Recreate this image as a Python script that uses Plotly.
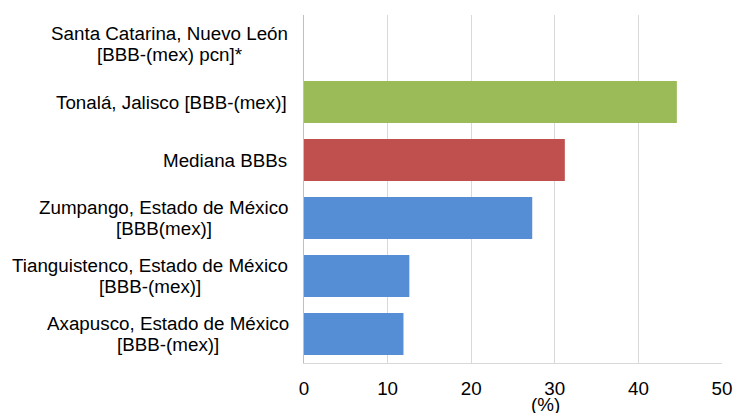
import plotly.graph_objects as go

categories = [
    "Axapusco, Estado de México<br>[BBB-(mex)]",
    "Tianguistenco, Estado de México<br>[BBB-(mex)]",
    "Zumpango, Estado de México<br>[BBB(mex)]",
    "Mediana BBBs",
    "Tonalá, Jalisco [BBB-(mex)]",
    "Santa Catarina, Nuevo León<br>[BBB-(mex) pcn]*",
]
values = [11.9, 12.6, 27.3, 31.2, 44.6, None]
colors = ["#558ED5", "#558ED5", "#558ED5", "#C0504D", "#9BBB59", "#9BBB59"]
x_ticks = [0, 10, 20, 30, 40, 50]
x_title = "(%)"

# layout: horizontal pixel centre of each (two-line) label block
label_centers_px = [167.6, 150.4, 164.1, None, None, 169.8]

W, H = 748, 413
ML, MR, MT, MB = 304, 26, 15, 50
PW = W - ML - MR
LABEL_RIGHT_PX = 288
LINE_GAP = 21

FONT = dict(family="Liberation Sans, Arial", size=18.8, color="#000000")

fig = go.Figure()
fig.add_trace(go.Bar(
    y=categories, x=values, orientation="h",
    marker=dict(color=colors, line=dict(width=0)),
    hoverinfo="skip",
))

def px_to_paper(px):
    return (px - ML) / PW

for cat, cx in zip(categories, label_centers_px):
    lines = cat.split("<br>")
    n = len(lines)
    for i, line in enumerate(lines):
        shift = (n - 1) / 2 * LINE_GAP - i * LINE_GAP
        if cx is None:
            x, anchor = px_to_paper(LABEL_RIGHT_PX), "right"
        else:
            x, anchor = px_to_paper(cx), "center"
        fig.add_annotation(
            x=x, xref="paper", y=cat, yref="y", yshift=shift,
            text=line, showarrow=False, xanchor=anchor, yanchor="middle",
            font=FONT, borderpad=0,
        )

fig.add_annotation(
    x=px_to_paper(545), xref="paper", y=0, yref="paper", yshift=-41,
    text=x_title, showarrow=False, xanchor="center", yanchor="middle",
    font=FONT, borderpad=0,
)

fig.update_layout(
    width=W, height=H,
    margin=dict(l=ML, r=MR, t=MT, b=MB),
    paper_bgcolor="white", plot_bgcolor="white",
    showlegend=False, bargap=0.28,
    font=FONT,
    xaxis=dict(
        range=[0, 50], tickvals=x_ticks, showgrid=True, gridcolor="#D9D9D9", gridwidth=1,
        zeroline=False, showline=True, linecolor="#D9D9D9", linewidth=1, mirror=False,
        ticks="outside", ticklen=8, tickcolor="rgba(0,0,0,0)", fixedrange=True,
    ),
    yaxis=dict(
        categoryorder="array", categoryarray=categories, showticklabels=False,
        showgrid=False, zeroline=False, showline=True, linecolor="#BFBFBF", linewidth=1,
        fixedrange=True,
    ),
)

fig.write_html("out.html")
